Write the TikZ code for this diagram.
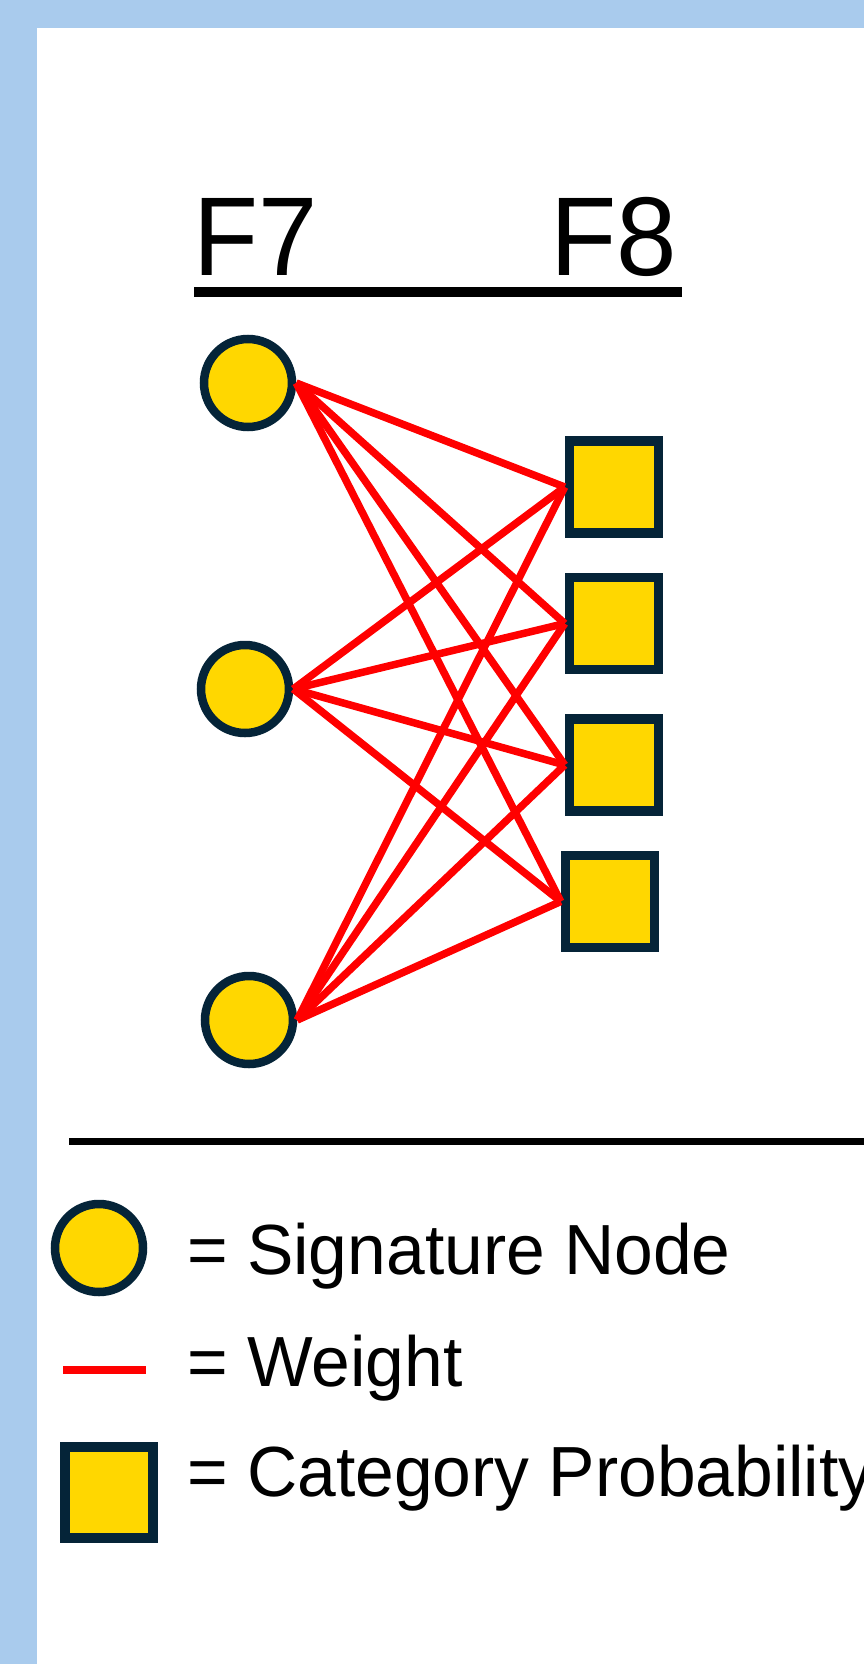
\documentclass[tikz,border=0pt]{standalone}
\usepackage{fontspec}
\setmainfont{Liberation Sans}
\definecolor{bgblue}{RGB}{169,203,237}
\definecolor{gold}{RGB}{255,215,0}
\definecolor{navy}{RGB}{5,36,56}
\begin{document}
\begin{tikzpicture}[x=1pt,y=-1pt,
  signode/.style={circle, draw=navy, fill=gold, line width=8.5pt, minimum size=88pt, inner sep=0pt},
  catnode/.style={rectangle, draw=navy, fill=gold, line width=9.5pt, minimum width=89pt, minimum height=92pt, inner sep=0pt},
  weight/.style={draw=red, line width=7.5pt},
  hdr/.style={font=\fontsize{112}{120}\selectfont, inner sep=0pt, anchor=base west},
  leg/.style={font=\fontsize{71}{80}\selectfont, inner sep=0pt, anchor=base west}]
\fill[bgblue] (0,0) rectangle (864,1664);
\fill[white] (37,28) rectangle (864,1664);
\useasboundingbox (0,0) rectangle (864,1664);

% header
\node[hdr] (f7) at (193,275) {\scalebox{0.95}[1]{F7}};
\node[hdr] (f8) at (550,275) {\scalebox{0.97}[1]{F8}};
\coordinate (ulA) at (194,292);
\coordinate (ulB) at (682,292);
\draw[line width=10pt] (ulA) -- (ulB);

% nodes
\node[signode] (c1) at (248,383) {};
\node[signode] (c2) at (245,689) {};
\node[signode] (c3) at (249,1020) {};
\node[catnode] (s1) at (614,487) {};
\node[catnode] (s2) at (614,623.5) {};
\node[catnode] (s3) at (614,765) {};
\node[catnode] (s4) at (610,901.5) {};

% weights
\foreach \c in {c1,c2,c3}{
  \foreach \s in {s1,s2,s3,s4}{
    \draw[weight] (\c.east) -- (\s.west);
  }
}

% separator
\coordinate (sepA) at (69,1141);
\coordinate (sepB) at (864,1141);
\draw[line width=7pt] (sepA) -- (sepB);

% legend
\node[signode] (lc) at (99,1248) {};
\node[leg] (lt1) at (187,1274) {\scalebox{0.98}[1]{= Signature Node}};
\coordinate (lwA) at (63,1370);
\coordinate (lwB) at (146,1370);
\draw[red, line width=8.5pt] (lwA) -- (lwB);
\node[leg] (lt2) at (187,1386) {\scalebox{0.98}[1]{= Weight}};
\node[catnode, minimum width=88pt, minimum height=91pt] (ls) at (109,1492.5) {};
\node[leg] (lt3) at (187,1496) {\scalebox{0.98}[1]{= Category Probability}};
\end{tikzpicture}
\end{document}
